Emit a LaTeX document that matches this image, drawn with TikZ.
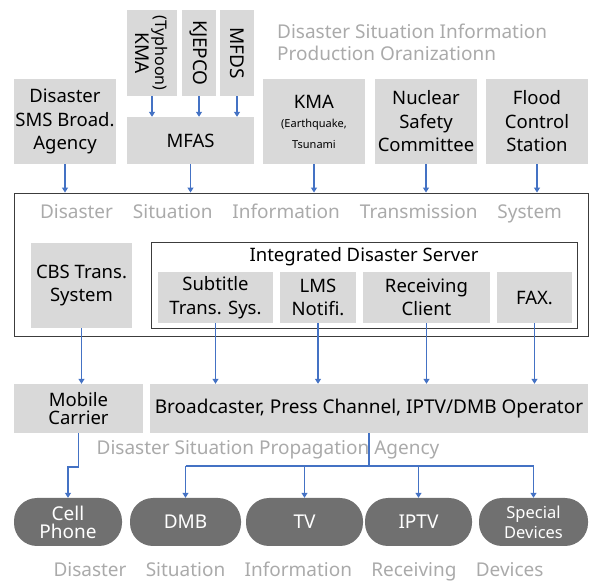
\documentclass[tikz,border=0pt]{standalone}
\usepackage{fontspec}
\setmainfont{Noto Sans}
\usetikzlibrary{arrows.meta}
\definecolor{boxgray}{RGB}{217,217,217}
\definecolor{framegray}{RGB}{60,60,60}
\definecolor{arrblue}{RGB}{68,114,196}
\definecolor{pillgray}{RGB}{112,112,112}
\definecolor{titlegray}{RGB}{170,170,170}
\newcommand\myfs[2]{\fontsize{#1}{#2}\selectfont}
\tikzset{
  gbox/.style={fill=boxgray, draw=none, inner sep=0pt, align=center, text=black, font=\myfs{18.5}{23.5}},
  frame/.style={draw=framegray, line width=0.9pt, fill=none, inner sep=0pt},
  arr/.style={draw=arrblue, line width=1.1pt, -{Triangle[width=6pt,length=5pt]}},
  ln/.style={draw=arrblue, line width=1.1pt},
  pill/.style={fill=pillgray, rounded corners=23pt, minimum height=48pt, inner sep=0pt, text=white, align=center, font=\myfs{19}{18}},
  gtext/.style={text=titlegray, inner sep=0pt, font=\myfs{19}{22}}
}
\begin{document}
\begin{tikzpicture}[x=1pt,y=-1pt]
\useasboundingbox (0,0) rectangle (590,585);
% title
\node[gtext, anchor=west, align=left] (ptitle) at (277,42) {Disaster Situation Information\\Production Oranizationn};
% top vertical boxes
\node[gbox, minimum width=50pt, minimum height=86pt] (kmat) at (152,53) {};
\node[rotate=-90, align=center, inner sep=0pt, font=\myfs{19}{20}] at (kmat) {{\myfs{16}{18}(Typhoon)}\\KMA};
\node[gbox, minimum width=34pt, minimum height=86pt] (kjepco) at (199,53) {};
\node[rotate=-90, inner sep=0pt, font=\myfs{19}{20}] at (kjepco) {KJEPCO};
\node[gbox, minimum width=34pt, minimum height=86pt] (mfds) at (237,53) {};
\node[rotate=-90, inner sep=0pt, font=\myfs{19}{20}] at (mfds) {MFDS};
\node[gbox, minimum width=127pt, minimum height=47pt] (mfas) at (190.5,140.5) {MFAS};
% production boxes
\node[gbox, minimum width=102pt, minimum height=85pt] (sms) at (65,121.5) {Disaster\\SMS Broad.\\Agency};
\node[gbox, minimum width=102pt, minimum height=85pt] (kmae) at (314,121.5) {KMA\\[-4pt]{\myfs{11}{15}(Earthquake,}\\[-3pt]{\myfs{11}{15}Tsunami}};
\node[gbox, minimum width=102pt, minimum height=85pt] (nsc) at (426,121.5) {Nuclear\\Safety\\Committee};
\node[gbox, minimum width=102pt, minimum height=85pt] (fcs) at (537,121.5) {Flood\\Control\\Station};
% transmission system
\node[frame, minimum width=574pt, minimum height=143pt] (dsits) at (301,264.5) {};
\node[gtext] (dsitsT) at (301,214) {\hbox to 522pt{Disaster\hfill Situation\hfill Information\hfill Transmission\hfill System}};
\node[gbox, minimum width=101pt, minimum height=85pt] (cbs) at (81.5,285.5) {CBS Trans.\\System};
\node[frame, minimum width=426pt, minimum height=86pt] (ids) at (364,285) {};
\node[inner sep=0pt, font=\myfs{18.5}{20}] (idsT) at (364,257) {Integrated Disaster Server};
\node[gbox, minimum width=115pt, minimum height=51pt] (sub) at (215.5,297.5) {Subtitle\\Trans. Sys.};
\node[gbox, minimum width=76pt, minimum height=51pt] (lms) at (318,297.5) {LMS\\Notifi.};
\node[gbox, minimum width=127pt, minimum height=51pt] (rc) at (426.5,297.5) {Receiving\\Client};
\node[gbox, minimum width=75pt, minimum height=51pt] (fax) at (534.5,297.5) {FAX.};
% propagation
\node[gbox, minimum width=129pt, minimum height=49pt, font=\myfs{18.5}{18}] (mc) at (78.5,408.5) {Mobile\\Carrier};
\node[gbox, minimum width=438pt, minimum height=49pt, font=\myfs{19}{22}] (bc) at (369,408.5) {Broadcaster, Press Channel, IPTV/DMB Operator};
\node[gtext] (propT) at (268,450) {Disaster Situation Propagation Agency};
% devices
\node[pill, minimum width=108pt] (cell) at (68,522) {Cell\\Phone};
\node[pill, minimum width=111pt] (dmb) at (185.5,522) {DMB};
\node[pill, minimum width=117pt] (tv) at (304.5,522) {TV};
\node[pill, minimum width=107pt] (iptv) at (418.5,522) {IPTV};
\node[pill, minimum width=109pt, font=\myfs{16.5}{20}] (spec) at (533.5,522) {Special\\Devices};
\node[gtext] (devT) at (298.5,572) {\hbox to 490pt{Disaster\hfill Situation\hfill Information\hfill Receiving\hfill Devices}};
% connectors
\draw[arr] (kmat.south) -- (kmat.south |- mfas.north);
\draw[arr] (kjepco.south) -- (kjepco.south |- mfas.north);
\draw[arr] (mfds.south) -- (mfds.south |- mfas.north);
\foreach \n in {sms,mfas,kmae,nsc,fcs}{
  \draw[arr] (\n.south) -- (\n.south |- dsits.north);
}
\draw[arr] (cbs.south) -- (cbs.south |- mc.north);
\foreach \n in {sub,lms,rc,fax}{
  \draw[arr] (\n.south) -- (\n.south |- bc.north);
}
\coordinate (j) at (369,466);
\draw[ln] (bc.south) -- (bc.south |- j);
\draw[ln] (dmb.north |- j) -- (spec.north |- j);
\foreach \n in {dmb,tv,iptv,spec}{
  \draw[arr] (\n.north |- j) -- (\n.north);
}
\coordinate (cj) at (79,467);
\draw[arr] (mc.south) -- (mc.south |- cj) -- (cell.north |- cj) -- (cell.north);
\end{tikzpicture}
\end{document}
